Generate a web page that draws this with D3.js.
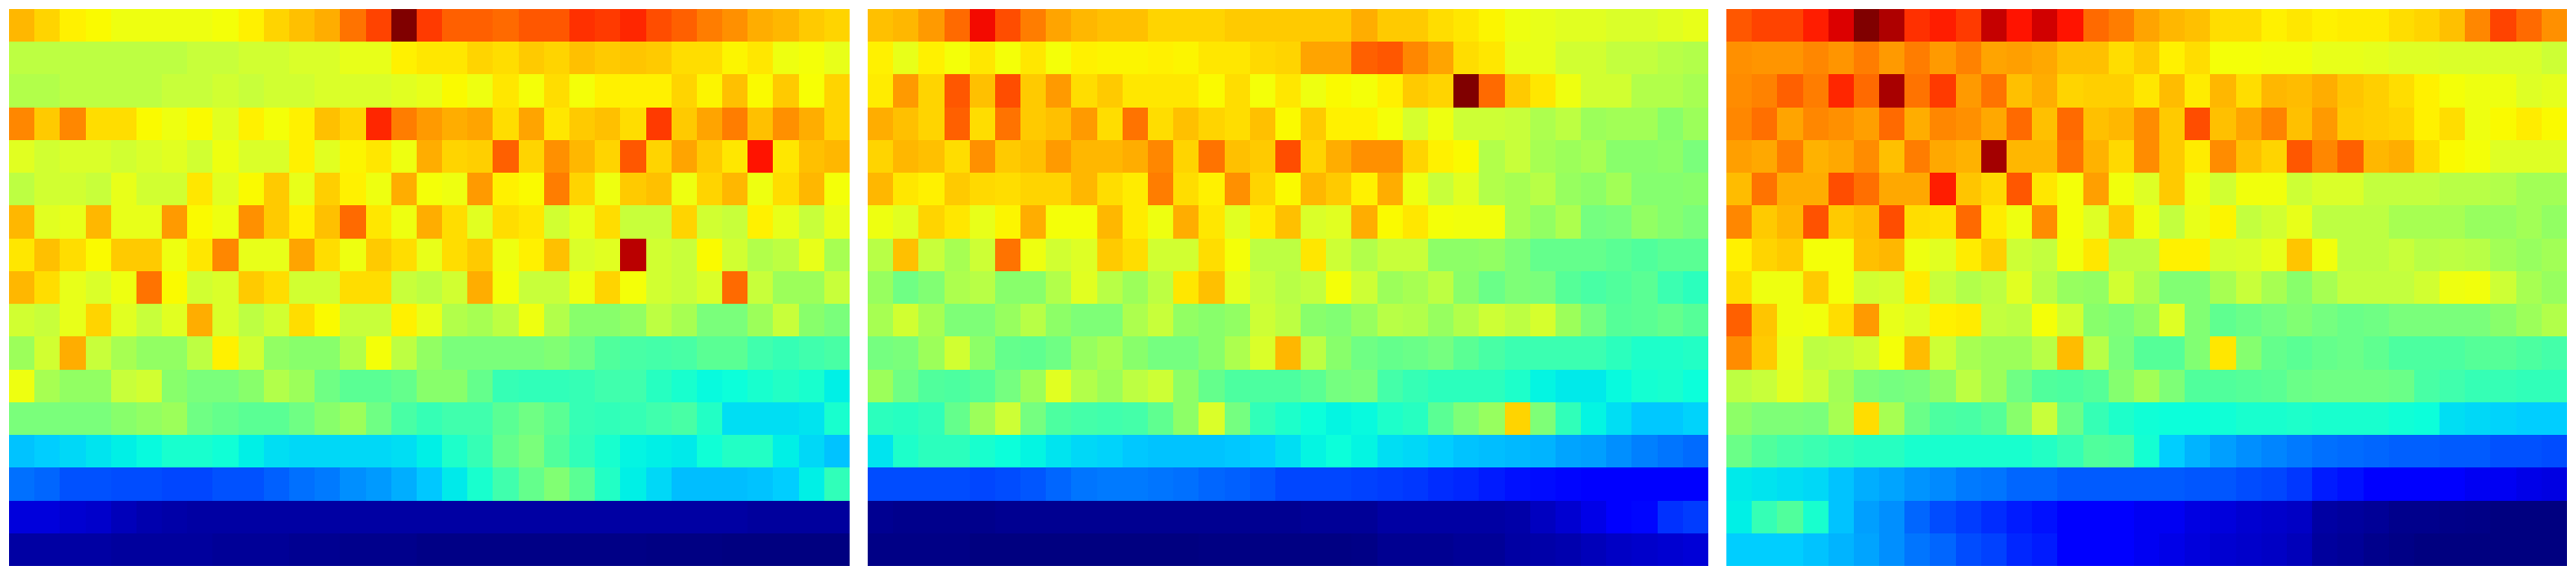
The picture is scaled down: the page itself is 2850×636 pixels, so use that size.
<!DOCTYPE html>
<html><head><meta charset="utf-8">
<script src="https://cdn.jsdelivr.net/npm/d3@7"></script>
<style>html,body{margin:0;padding:0;background:#fff}svg{display:block}</style>
</head><body><svg id="c" width="2850" height="636"></svg>
<script>
const panelA=[
[72,69,66,65,63,63,63,63,64,66,69,71,73,79,84,100,85,81,81,80,82,82,86,85,87,83,81,78,76,73,72,70,69],
[57,57,57,57,57,57,57,58,58,59,59,60,60,62,62,66,67,67,69,68,70,69,71,70,70.5,70,68,68,65.5,67,63,64,62],
[56,56,57,57,57,57,58,58,59,58,59,59,60,60,60,61,62,65,63,67,64,68,64,66,66,66,69,65.5,71,65,70,64.5,69],
[77,70,77,68,68,65,63,65,61,66,64,66,71,69,87,78,75,73,74,68,74,67,70,71,68,85,70,74,78,71,76,73,69],
[61,59,60,60,59,60,61,59,63,60,60,66,61,65.5,67,63,73,69,69.5,81,69,76,72,69,82,69,74,70,67,89,67,71,72],
[57,59,59,58,62,59,59,67,61,65,70,62,69.5,66,63,73,64,63,75,66,65,78,69,63,70,71,63,69,72,63,68,72,64],
[72,61,62,72,62,62,75,65,63,76,70,66,71,80,67,63,73,68,61,68,67,59,62,68,58,58,69,59,58,66,62,58,62],
[67,71,68,65,70,70,63,67,77,62,62,74,68,63,70,68,62,68,70,63,66,71,60,61,95,59,58,65,59,56,57,62,55],
[72,68,62,60,63,79,65,59,60,70,68,59,59,68,68,58,57,59,73,64,58,58,63,69,64,59,58,60,80,58,54,54,58],
[59,58,62,69,61,58,61,73,60,57,59,68,65,58,58,66,62,56,55,57,63,56,52,52,53,57,55,50,50,54,58,52,50],
[54,59,73,58,55,53,53,57,66,59,53,52,52,56,64,57,53,50,50,50,50,51,49,46,45,44.5,45,47,47,44,43,44,45],
[63,55,53,53,58,59,52,50,50,52,56,54,49,47,47,48,52,52,48,43,42.5,42.5,43,44,44,41.5,40,38,38.5,40,41,40,37],
[50,50,50,50,52,53,54,49,48,47,47,49,52,54,49,45,43,44,44,47,49,47,43,42.5,43,44,45,41,35.5,35.5,35.5,36,40],
[33,34,35,36,37,38,40,40,39,37,35.5,35,35,35,35,35.5,37,40.5,43,48,50,46,42.5,40,37.5,37,36.5,39,41,41,37,35,33],
[25,24,22,22,21.5,21.5,21,21,22,22,23.5,25,26,28,29,31,33.5,36.5,40,44,48,51,47,41,37,35,32.5,32.5,32.5,33,34,37,42.5],
[8,8,7,6.5,5,4,3.5,3,3,3,3,3,3,3,3,3,3,3,3,3,3,3,3,3,3,3,3,3,3,2.5,2.5,2.5,2.5],
[3,3,3,3,2.5,2.5,2.5,2.5,2,2,2,1.5,1.5,1,1,1,.5,.5,.5,.5,.5,.5,.5,.5,.5,.3,.3,.3,0,0,0,0,0]
];
const panelB=[
[71,72,75,80,90,83,78,74,72,71,71,69,69,69,70,70,70,70,70,73,70,70,68,67,65.5,63,62,61,61,60,60,61,62],
[66,62,66,64,67,64,67,64,66,65.5,65.5,66,65.5,67,67,68.5,69,74,74,81,82,77,74,68,67,62,62,59,59,57.5,57.5,56.5,56],
[66.5,75,69,82,71,83,70,75,68,70,67,67,67,65,68,64,67,63,65,64,66,70,69,100,80,70,67,63,59,59,56,56,55],
[73,71,69,81,68,79,70,71,75,68,79,68,71,69,68,71,65,70,66,66,64,59.5,63,58.5,58.5,58,55.5,57,54,54.5,54.5,52,54],
[69,72,71,68,76,70,71,75,72,72,73,77,69,79,71,70,83,69,73,76,76,69,66,65,56,58,55,54,55,52,52,52.5,50],
[72,67,66,70,68.5,68,69,69,72,68,66.5,78,68,66,76,69,65,72,70,66,73,63,58,61,56,55,56.5,53.5,52.5,54.5,51.5,51.5,52],
[63,61,69,67,62,65.5,73,64,64,72,66.5,63,73,67,61,66.5,71,60,61,73,65,67,64,63.5,63.5,55,53,55.5,49.5,50,53,51.5,50],
[56.5,71,58,55,58.5,79,63,59,60.5,70,68,59,59,68,64,57,57,67,58.5,56,58,58,52.5,52.5,53,50.5,48,48,48,47,46,47,47],
[53.5,49,51,55.5,56.5,52,52,56,61,56.5,54,57,67,71,61.5,58,56.5,57.5,64,58.5,54,55,57,52,48.5,50.5,50,46.5,45,46,47,43.5,42],
[55,59,55,50.5,50.5,53.5,56.5,52.5,50.5,50.5,55.5,58,53,52,53,58.5,57,52,51,53.5,56.5,56,53.5,56,58.5,57,59.5,54,49.5,46.5,47,48,46.5],
[49.5,50,54,59,52.5,48,47.5,49,53.5,55,52,49.5,49.5,52,55.5,60,72,57,52,49,48,48.5,49.5,47,45,43.5,43.5,43.5,43.5,42,40.5,40.5,41],
[54,49,46,45.5,46.5,49.5,54,61,56,54,57,58.5,52.5,48,45.5,45.5,45.5,47,49.5,50,44.5,43,42,42,42,40.5,37.5,36.5,36.5,38,39.5,40,38.5],
[42,41.5,42.5,48,54,58.5,49.5,45.5,44.5,44,44.5,47.5,52.5,60,49.5,42.5,40.5,38.5,37.5,38,40.5,41.5,47,50.5,53.5,69,50.5,42.5,37.5,35.5,33.5,33.5,34.5],
[36,40.5,42,42,40,38.5,37.5,36,35,34.5,33.5,33,33,33,33.5,34,35.5,37.5,38.5,37.5,35.5,35,34,33,32.5,32,31.5,30,29.5,28,26.5,25.5,24.5],
[21.5,21.5,21.5,21.5,21,21.5,22.5,24,25.5,26,26,25.5,25,24,23.5,22.5,21,21,21,20.5,20,19.5,18.5,18,17,16,15.5,15,14.5,14,12,12,12],
[1.5,1,1,1,1,1.5,1.5,1.5,1.5,1.5,1.5,1.5,1.5,1.5,1.5,1.5,1.5,2,2,2,3,3,3,3,3,3.5,5.5,7,9,11,15,19,20],
[.5,.5,.5,.5,0,0,0,0,0,0,0,0,0,.3,.3,.3,.3,.3,.3,.5,1.5,1.5,1.5,2,2,3,3.5,4,5,6,6.5,7,7.5]
];
const panelC=[
[82,84,84,88,92,100,96,86,88,85,94,89,93,89,80,78,74,72,71,68,68,66,67,66,66.5,66.5,68,69,71,77,84,80,76],
[76,75.5,75.5,77,75.5,78,75,78,75,77.5,74,74.5,73.5,71,71,68,70,66,68,64,64,63.5,63.5,62,62,61.5,60.5,60.5,60,60,60,60,58.5],
[76.5,77.5,81,78,87,80,96.5,79,85,75,79,71,73,69,69.5,69.5,67,71.5,66.5,72,68,72,71.5,73,70.5,69.5,68,66,64,63,63,60.5,61.5],
[77,79.5,74,77,76,74.5,80,73,77,76,73.5,80,71,80,71,72,76.5,70,83,71,74,77.5,71,75,70,69.5,69,66,68,63,65,66.5,65],
[74.5,73.5,78,72.5,73.5,76.5,71,78,73.5,72.5,97,72,72,79,72.5,68.5,76.5,70,66.5,76.5,71,69,82,77,81,72,73,68,65,64,60.5,60.5,60.5],
[71.5,79,73,73,83,79.5,73.5,73.5,88,70.5,68.5,82,67,64,74.5,63.5,60.5,70,63,59,63.5,63.5,58.5,60,60,57.5,57.5,57.5,56.5,56.5,56,54.5,54.5],
[77,70,72,82.5,70,71.5,83,68,67.5,80,66.5,63,76.5,64,60.5,70,63,57.5,62,65.5,57.5,59,62,57,57,57,55,55,55,53.5,53.5,54.5,53],
[66,69,70,64,64,71,72,63,61,66.5,69.5,58.5,57.5,63.5,67,57,57,66,66,59.5,60,62,70.5,63.5,57,57,58,56.5,57,56.5,54.5,53.5,54.5],
[68,63,63,70,64,59,59.5,66.5,58,56,57,61,56.5,53.5,53,59,55.5,51,51,55,58,55,52,55,57.5,57.5,57.5,59,63,63.5,58.5,55,53.5],
[81,70.5,63,63.5,68,75,62,60.5,66,66.5,57.5,57,64,59,52,50.5,53,60.5,51,47.5,48.5,49.5,51,49.5,48.5,49,50,50,50,50,52,54,56],
[76.5,70,62,57,57.5,59,64,71.5,58.5,55,54,54,56.5,71.5,56.5,50,46.5,46.5,51,67,51.5,48,47,48,48.5,47.5,45.5,45.5,45.5,46.5,46.5,45.5,44.5],
[57,58,61,58.5,54.5,50.5,49.5,50,52.5,57,54,49,46,45.5,46.5,51.5,54.5,50.5,46,46,46.5,47,48.5,49,49,49,48.5,45,44,43,43,42.5,42.5],
[52.5,50.5,50.5,50,55,68,55,48.5,45.5,45,46.5,52,58,48.5,43,40.5,39,38.5,38.5,39,40,40,40.5,40,40,40,39,38.5,35.5,35,34.5,34,34],
[48.5,46,44.5,43.5,42.5,41.5,41.5,40,40,40,40,40,41,43,46,45.5,39.5,34,31.5,29.5,28,27,26,25,24.5,24,23.5,23.5,23,23,22,22,21.5],
[36.5,36,35.5,35,33,31,30,28.5,27.5,26,25.5,24,24,23,23,23,23,23,22.5,22.5,21.5,21,19.5,17,16,12,12,12,12,10,10,9,8.5],
[37,43,46,40,33,29.5,28,24,21.5,20,18.5,17,16,13,12,12,10,10,8.5,8,7,6.5,6,3,2.5,2,1,1,.7,.5,0,0,0],
[34,34,34,33,31.5,30,28,25.5,24,21.5,20.5,18,17,13,12,12,10,9,8,7,6.5,6,5,2.5,2,1,.5,0,0,0,0,0,0]
];
const panels=[panelA,panelB,panelC];
const panelOffsets=[10,960,1910];

const redStops=[37,40,42.5,44,46,48,50,52,54,56,58,60,62,64,66,89,100];
const redLevels=[0,24,48,64,80,100,122,136,156,178,200,218,232,244,255,255,128];
const greenStops=[12,14.5,20,25,30,35,37,38.5,64.5,91,100];
const greenLevels=[0,0,60,112,164,216,240,255,255,0,0];
const blueStops=[0,11,34,65,100];
const blueLevels=[128,255,255,0,0];
const red=d3.scaleLinear().domain(redStops).range(redLevels).clamp(true);
const green=d3.scaleLinear().domain(greenStops).range(greenLevels).clamp(true);
const blue=d3.scaleLinear().domain(blueStops).range(blueLevels).clamp(true);
const jet=v=>`rgb(${Math.round(red(v))},${Math.round(green(v))},${Math.round(blue(v))})`;

const svg=d3.select('#c');
const xIdx=d3.range(33), yIdx=d3.range(17);
const y=d3.scaleBand().domain(yIdx).range([10,626]);
panels.forEach((data,p)=>{
  const x=d3.scaleBand().domain(xIdx).range([panelOffsets[p],panelOffsets[p]+930]);
  const g=svg.append('g');
  data.forEach((row,r)=>{
    g.selectAll(null).data(row).join('rect')
      .attr('x',(d,i)=>Math.round(x(i)))
      .attr('y',Math.round(y(r)))
      .attr('width',(d,i)=>Math.round(x(i)+x.bandwidth())-Math.round(x(i)))
      .attr('height',Math.round(y(r)+y.bandwidth())-Math.round(y(r)))
      .attr('fill',d=>jet(d))
      .attr('shape-rendering','crispEdges');
  });
});
</script></body></html>
